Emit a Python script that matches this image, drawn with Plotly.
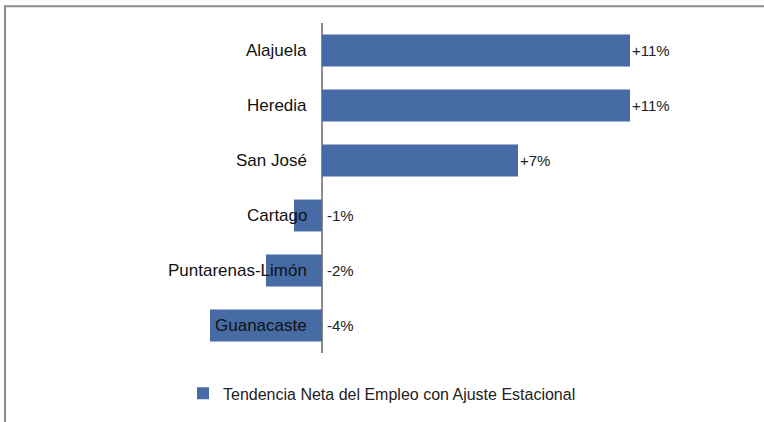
import plotly.graph_objects as go

categories = ["Alajuela", "Heredia", "San José", "Cartago", "Puntarenas-Limón", "Guanacaste"]
values = [11, 11, 7, -1, -2, -4]
value_labels = ["+11%", "+11%", "+7%", "-1%", "-2%", "-4%"]
series_name = "Tendencia Neta del Empleo con Ajuste Estacional"

BAR_COLOR = "#466BA5"
FONT = "Liberation Sans, Arial, sans-serif"

W, H = 764, 422
L, R, T, B = 182, 50, 23, 64
pw, ph = W - L - R, H - T - B

def px_x(p):
    return (p - L) / pw

def px_y(p):
    return (H - B - p) / ph

fig = go.Figure()
fig.add_trace(go.Bar(
    y=categories, x=values, orientation="h",
    marker=dict(color=BAR_COLOR, line=dict(width=0)),
    width=0.58, name=series_name, showlegend=True,
    hoverinfo="skip",
))

annotations = []
for c, v, t in zip(categories, values, value_labels):
    annotations.append(dict(
        x=max(v, 0), y=c, xref="x", yref="y", text=t, showarrow=False,
        xanchor="left", yanchor="middle", xshift=3 if v < 0 else 0,
        font=dict(family=FONT, size=15, color="#222222"),
    ))
    annotations.append(dict(
        x=0, y=c, xref="x", yref="y", text=c, showarrow=False,
        xanchor="right", yanchor="middle", xshift=-13,
        font=dict(family=FONT, size=17, color="#111111"),
    ))

frame_line = dict(color="#8c8c8c", width=2)
fig.update_layout(
    width=W, height=H,
    margin=dict(l=L, r=R, t=T, b=B),
    paper_bgcolor="white", plot_bgcolor="white",
    xaxis=dict(range=[-5, 14], showgrid=False, showticklabels=False, ticks="",
               zeroline=True, zerolinecolor="#8c8c8c", zerolinewidth=1.5,
               showline=False, fixedrange=True),
    yaxis=dict(categoryorder="array", categoryarray=categories[::-1],
               showticklabels=False, showgrid=False, ticks="", showline=False,
               zeroline=False, fixedrange=True),
    showlegend=True,
    legend=dict(orientation="h", x=px_x(183), y=px_y(399), xanchor="left", yanchor="middle",
                font=dict(family=FONT, size=16, color="#222222"),
                bgcolor="rgba(0,0,0,0)", itemwidth=30),
    annotations=annotations,
    shapes=[
        dict(type="line", xref="paper", yref="paper",
             x0=px_x(4), x1=px_x(W), y0=px_y(6), y1=px_y(6), line=frame_line, layer="above"),
        dict(type="line", xref="paper", yref="paper",
             x0=px_x(5), x1=px_x(5), y0=px_y(5), y1=px_y(H + 30), line=frame_line, layer="above"),
    ],
)

fig.write_html("out.html", config={"displayModeBar": False},
               post_script="document.body.style.margin='0';")
